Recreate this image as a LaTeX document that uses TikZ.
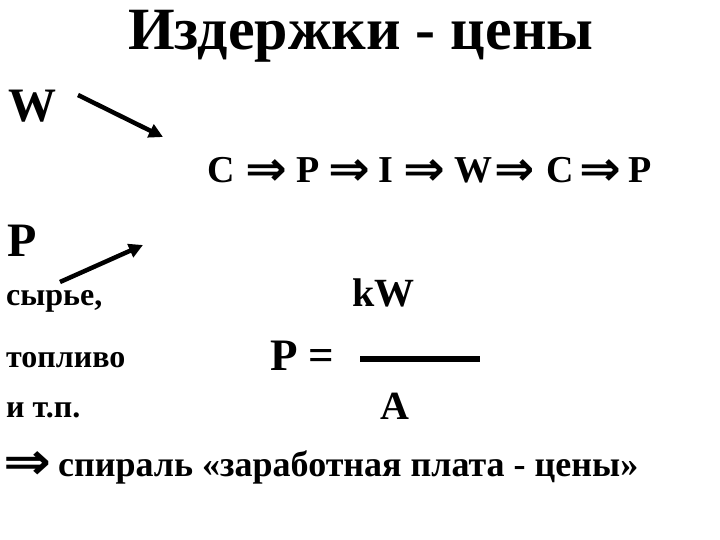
\documentclass[tikz,border=0pt]{standalone}
\usepackage{fontspec}
\setmainfont{Liberation Serif}
\newfontfamily\arrowfont{DejaVu Sans}
\usetikzlibrary{arrows.meta}
\newcommand{\RA}[2]{\scalebox{#1}[#2]{\arrowfont\bfseries ⇒}}
\tikzset{
  txt/.style={anchor=base west, inner sep=0pt, font=\bfseries},
  chainf/.style={txt, font=\bfseries\fontsize{38}{40}\selectfont},
  dbl/.style={anchor=center, inner sep=0pt, font=\bfseries\fontsize{37}{40}\selectfont},
  arr/.style={line width=4.5pt, -{Triangle[length=14pt,width=14pt]}},
}
\begin{document}
\begin{tikzpicture}[x=1pt,y=-1pt]
\useasboundingbox (0,0) rectangle (720,540);
\node[txt, font=\bfseries\fontsize{60}{66}\selectfont] (title) at (128,50) {Издержки - цены};
\node[txt, font=\bfseries\fontsize{48}{54}\selectfont] (W) at (8,122) {W};
\node[txt, font=\bfseries\fontsize{48}{54}\selectfont] (P) at (7,256) {P};
% chain
\node[chainf] (c1) at (207,183) {C};
\node[dbl] (a1) at (266,173) {\RA{1.35}{1.3}};
\node[chainf] (c2) at (296,183) {P};
\node[dbl] (a2) at (349,173) {\RA{1.35}{1.3}};
\node[chainf] (c3) at (378,183) {I};
\node[dbl] (a3) at (424,173) {\RA{1.35}{1.3}};
\node[chainf] (c4) at (454,183) {W};
\node[dbl] (a4) at (515,173) {\RA{1.3}{1.3}};
\node[chainf] (c5) at (546,183) {C};
\node[dbl] (a5) at (600,173) {\RA{1.35}{1.3}};
\node[chainf] (c6) at (628,183) {P};
% left words
\node[txt, font=\bfseries\fontsize{32}{36}\selectfont] (s1) at (6,305) {сырье,};
\node[txt, font=\bfseries\fontsize{32}{36}\selectfont] (s2) at (6,367) {топливо};
\node[txt, font=\bfseries\fontsize{32}{36}\selectfont] (s3) at (6,417) {и т.п.};
% formula
\node[txt, font=\bfseries\fontsize{40}{44}\selectfont] (kW) at (352,306) {kW};
\node[txt, font=\bfseries\fontsize{45}{50}\selectfont] (Peq) at (270,370) {P =};
\node[txt, font=\bfseries\fontsize{40}{44}\selectfont] (A) at (380,419) {A};
% bottom
\node[dbl] (barr) at (28,466) {\RA{1.55}{1.4}};
\node[txt, font=\bfseries\fontsize{36}{40}\selectfont] (bottom) at (58,476) {спираль «заработная плата - цены»};
\coordinate (w1) at (78,95);
\coordinate (w2) at (163,137);
\coordinate (p1) at (60,282);
\coordinate (p2) at (143,245);
\coordinate (f1) at (360,359);
\coordinate (f2) at (480,359);
\draw[arr] (w1) -- (w2);
\draw[arr] (p1) -- (p2);
\draw[line width=6pt] (f1) -- (f2);
\end{tikzpicture}
\end{document}
